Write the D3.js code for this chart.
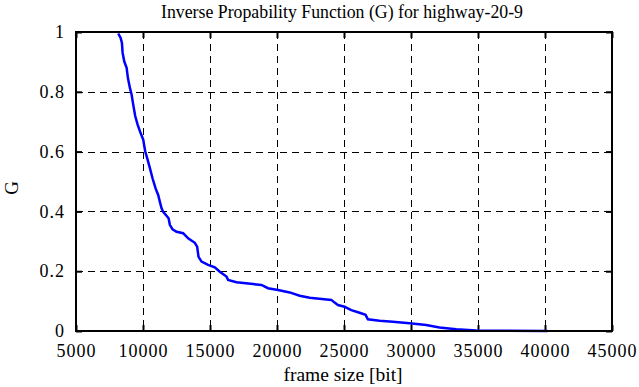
<!DOCTYPE html>
<html><head><meta charset="utf-8">
<script src="https://cdn.jsdelivr.net/npm/d3@7"></script>
<style>body{margin:0;background:#fff}svg{display:block}svg text{font-family:"Liberation Serif","Times New Roman",serif !important;fill:#000}</style>
</head><body>
<script>
const frameSize = [8152,8331,8428,8480,8599,8778,8875,9024,9151,9270,9419,9598,9821,10016,10164,10343,10515,10716,10939,11133,11260,11386,11505,11707,11908,12005,12206,12504,12996,13368,13868,14040,14144,14368,14859,15358,15731,16230,16349,16975,18212,18838,19330,20075,20947,21692,22438,24055,24301,24547,25046,25545,26163,26610,26782,27654,28645,29890,31134,32125,33370,34860,36097,40196];
const gValues = [0.995,0.98,0.963,0.93,0.902,0.88,0.846,0.813,0.79,0.757,0.719,0.69,0.662,0.64,0.601,0.573,0.545,0.51,0.477,0.455,0.432,0.41,0.399,0.388,0.377,0.355,0.34,0.332,0.327,0.31,0.295,0.282,0.248,0.232,0.221,0.213,0.198,0.182,0.171,0.163,0.157,0.154,0.143,0.137,0.129,0.118,0.111,0.104,0.095,0.087,0.081,0.07,0.061,0.054,0.039,0.034,0.031,0.026,0.020,0.012,0.006,0.002,0.001,0.0];
const xTicks = [5000,10000,15000,20000,25000,30000,35000,40000,45000];
const yTicks = [0,0.2,0.4,0.6,0.8,1];
const yTickLabels = ["0","0.2","0.4","0.6","0.8","1"];
const title = "Inverse Propability Function (G) for highway-20-9";
const xLabel = "frame size [bit]";
const yLabel = "G";

const W=639,H=387, L=76,R=612,T=32,B=331;
const svg=d3.select("body").append("svg").attr("width",W).attr("height",H);
const x=d3.scaleLinear().domain([5000,45000]).range([L,R]);
const y=d3.scaleLinear().domain([0,1]).range([B,T]);

// grid
const g=svg.append("g").attr("stroke","#000").attr("stroke-width",1).attr("stroke-dasharray","7,5");
xTicks.slice(1,-1).forEach(v=>g.append("line").attr("x1",x(v)+0.5).attr("x2",x(v)+0.5).attr("y1",T).attr("y2",B));
yTicks.slice(1,-1).forEach(v=>g.append("line").attr("x1",L).attr("x2",R).attr("y1",Math.round(y(v))+0.5).attr("y2",Math.round(y(v))+0.5));

// axes with inward ticks
const ax=svg.append("g");
ax.append("g").attr("transform",`translate(0,${B})`).call(d3.axisBottom(x).tickValues(xTicks).tickSize(-6).tickFormat(d3.format("d")).tickPadding(13.5));
ax.append("g").attr("transform",`translate(0,${T})`).call(d3.axisTop(x).tickValues(xTicks).tickSize(-6).tickFormat(""));
ax.append("g").attr("transform",`translate(${L},0)`).call(d3.axisLeft(y).tickValues(yTicks).tickSize(-6).tickFormat((d,i)=>yTickLabels[i]).tickPadding(11));
ax.append("g").attr("transform",`translate(${R},0)`).call(d3.axisRight(y).tickValues(yTicks).tickSize(-6).tickFormat(""));
ax.selectAll(".domain").remove();
ax.selectAll("g").attr("font-family","Liberation Serif, serif");
ax.selectAll("line").attr("stroke","#000").attr("stroke-width",2);
ax.selectAll("text").style("font-size","18px").style("letter-spacing","1px").attr("fill","#000");

// data line
const pts=frameSize.map((d,i)=>[d,gValues[i]]);
svg.append("path").datum(pts).attr("fill","none").attr("stroke","#0000ff").attr("stroke-width",2.5)
 .attr("d",d3.line().x(d=>x(d[0])).y(d=>y(d[1])));

// frame
svg.append("rect").attr("x",L).attr("y",T).attr("width",R-L).attr("height",B-T).attr("fill","none").attr("stroke","#000").attr("stroke-width",2);

svg.append("text").attr("x",342).attr("y",18).attr("text-anchor","middle").style("font-size","17.8px").text(title);
svg.append("text").attr("x",343).attr("y",381).attr("text-anchor","middle").style("font-size","19.5px").text(xLabel);
svg.append("text").attr("transform",`translate(18,188) rotate(-90)`).attr("text-anchor","middle").style("font-size","19px").text(yLabel);
</script>
</body></html>
